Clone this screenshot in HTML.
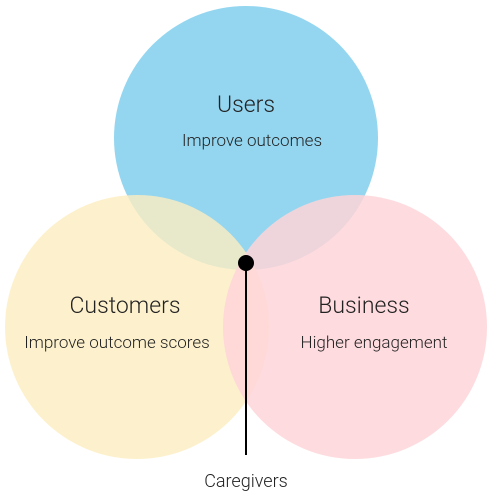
<!DOCTYPE html>
<html><head><style>body{margin:0;background:#fff}</style></head><body>
<svg width="492" height="497" xmlns="http://www.w3.org/2000/svg" font-family="Roboto, 'Liberation Sans', sans-serif">
<rect width="492" height="497" fill="#fff"/>
<circle cx="246" cy="138" r="132" fill="#94d6f0"/>
<circle cx="137" cy="327" r="132" fill="#fdeec0" fill-opacity="0.8"/>
<circle cx="355" cy="327" r="132" fill="#fed5d8" fill-opacity="0.85"/>
<line x1="246" y1="263" x2="246" y2="455" stroke="#000" stroke-width="2"/>
<circle cx="246" cy="263" r="8" fill="#000"/>
<g fill="#222" text-anchor="middle" font-weight="300">
<text x="246" y="112" font-size="23">Users</text>
<text x="252" y="146" font-size="17">Improve outcomes</text>
<text x="125" y="313" font-size="23">Customers</text>
<text x="117" y="348" font-size="17">Improve outcome scores</text>
<text x="364" y="313" font-size="23">Business</text>
<text x="374" y="348" font-size="17">Higher engagement</text>
<text x="246" y="487" font-size="18">Caregivers</text>
</g>
</svg>
</body></html>
